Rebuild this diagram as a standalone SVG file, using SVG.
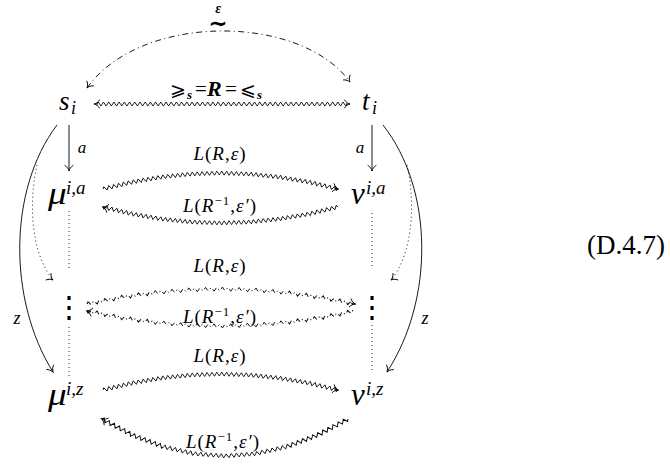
<svg xmlns="http://www.w3.org/2000/svg" width="670" height="466" viewBox="0 0 670 466">
<style>
text{font-family:"Liberation Serif",serif;fill:#000}
.i{font-family:"Liberation Serif",serif;font-style:italic}
.u{font-style:normal}
.sym{font-family:"DejaVu Sans",sans-serif;font-style:normal}
.ln{fill:none;stroke:#000;stroke-width:0.9}
.dd{stroke-dasharray:6,3.5,1,3.5}
.dt{stroke-dasharray:1,3}
.zl{fill:none;stroke:#000;stroke-width:0.85}
.zd{stroke-dasharray:6,3.5,1.2,3.5}
.lab{font-size:19px;letter-spacing:1px}
.nd{font-size:31px}
.sp{font-size:19px}
</style>
<defs>
<marker id="ar" viewBox="-8 -6 10 12" refX="0" refY="0" markerWidth="10" markerHeight="12" markerUnits="userSpaceOnUse" orient="auto-start-reverse" overflow="visible">
<path d="M-5.5,-4 C-4.2,-1.6 -1.8,-0.5 0,0 C-1.8,0.5 -4.2,1.6 -5.5,4" fill="none" stroke="#000" stroke-width="0.9" stroke-linecap="round"/>
</marker>
<path id="zz" d="M0,0 l1.25,-2 l2.5,4 l2.5,-4 l2.5,4 l2.5,-4 l2.5,4 l2.5,-4 l2.5,4 l2.5,-4 l2.5,4 l2.5,-4 l2.5,4 l1.25,-2"/>
<g id="zzA">
<use href="#zz" transform="translate(103,189) rotate(-13.4) scale(1.007,1)"/>
<use href="#zz" transform="translate(132.375,182) rotate(-9.66) scale(0.993,1)"/>
<use href="#zz" transform="translate(161.75,177) rotate(-5.83) scale(0.984,1)"/>
<use href="#zz" transform="translate(191.125,174) rotate(-1.95) scale(0.98,1)"/>
<use href="#zz" transform="translate(220.5,173) rotate(1.95) scale(0.98,1)"/>
<use href="#zz" transform="translate(249.875,174) rotate(5.83) scale(0.984,1)"/>
<use href="#zz" transform="translate(279.25,177) rotate(9.66) scale(0.993,1)"/>
<use href="#zz" transform="translate(308.625,182) rotate(13.4) scale(1.007,1)"/>
</g>
<g id="zzC">
<use href="#zz" transform="translate(87,304) rotate(-11.08) scale(1.138,1)"/>
<use href="#zz" transform="translate(120.5,297.44) rotate(-7.97) scale(1.128,1)"/>
<use href="#zz" transform="translate(154,292.75) rotate(-4.8) scale(1.121,1)"/>
<use href="#zz" transform="translate(187.5,289.94) rotate(-1.6) scale(1.117,1)"/>
<use href="#zz" transform="translate(221,289) rotate(1.6) scale(1.117,1)"/>
<use href="#zz" transform="translate(254.5,289.94) rotate(4.8) scale(1.121,1)"/>
<use href="#zz" transform="translate(288,292.75) rotate(7.97) scale(1.128,1)"/>
<use href="#zz" transform="translate(321.5,297.44) rotate(11.08) scale(1.138,1)"/>
</g>
</defs>

<g id="connectors">
<path class="ln dd" d="M87,88 C140,13 300,13 350,82" marker-start="url(#ar)" marker-end="url(#ar)"/>
<g class="zl">
<use href="#zz" transform="translate(97,104) scale(1.0417,1)"/>
<use href="#zz" transform="translate(128.25,104) scale(1.0417,1)"/>
<use href="#zz" transform="translate(159.5,104) scale(1.0417,1)"/>
<use href="#zz" transform="translate(190.75,104) scale(1.0417,1)"/>
<use href="#zz" transform="translate(222,104) scale(1.0417,1)"/>
<use href="#zz" transform="translate(253.25,104) scale(1.0417,1)"/>
<use href="#zz" transform="translate(284.5,104) scale(1.0417,1)"/>
<use href="#zz" transform="translate(315.75,104) scale(1.0417,1)"/>
</g>
<path class="ln" d="M98,104 L94,104" marker-end="url(#ar)"/>
<path class="ln" d="M346,104 L350,104" marker-end="url(#ar)"/>
<path class="ln" d="M69,125 L69,171" marker-end="url(#ar)"/>
<path class="ln" d="M372,125 L372,171" marker-end="url(#ar)"/>
<path class="ln" d="M57,125 C8,190 8,300 53,372" marker-end="url(#ar)"/>
<path class="ln" d="M383,125 C434,190 434,300 387,372" marker-end="url(#ar)"/>
<path class="ln dt" d="M37,165 C29,200 30,252 53,280"/>
<path class="ln" d="M51,278.5 L53,280" marker-end="url(#ar)"/>
<path class="ln dt" d="M407,165 C415,200 414,252 391,280"/>
<path class="ln" d="M393,278.5 L391,280" marker-end="url(#ar)"/>
<path class="ln dt" d="M69,211 L69,268 M69,327 L69,377 M372,213 L372,268 M372,325 L372,373"/>
<use href="#zzA" class="zl"/>
<path class="ln" d="M334,187.9 L338.5,189.1" marker-end="url(#ar)"/>
<use href="#zzA" class="zl" transform="translate(0,396) scale(1,-1)"/>
<path class="ln" d="M107,208.1 L102.5,206.9" marker-end="url(#ar)"/>
<use href="#zzC" class="zl zd"/>
<path class="ln" d="M351,303.1 L355.5,304.1" marker-end="url(#ar)"/>
<use href="#zzC" class="zl zd" transform="translate(0,615) scale(1,-1)"/>
<path class="ln" d="M91,311.9 L86.5,310.9" marker-end="url(#ar)"/>
<use href="#zzA" class="zl" transform="translate(0,201)"/>
<path class="ln" d="M334,388.9 L338.5,390.1" marker-end="url(#ar)"/>
<g class="zl">
<use href="#zz" transform="translate(102,419) rotate(27.76) scale(1.158,1)"/>
<use href="#zz" transform="translate(132.75,435.19) rotate(20.61) scale(1.095,1)"/>
<use href="#zz" transform="translate(163.5,446.75) rotate(12.71) scale(1.051,1)"/>
<use href="#zz" transform="translate(194.25,453.69) rotate(4.3) scale(1.028,1)"/>
<use href="#zz" transform="translate(225,456) rotate(-4.3) scale(1.028,1)"/>
<use href="#zz" transform="translate(255.75,453.69) rotate(-12.71) scale(1.051,1)"/>
<use href="#zz" transform="translate(286.5,446.75) rotate(-20.61) scale(1.095,1)"/>
<use href="#zz" transform="translate(317.25,435.19) rotate(-27.76) scale(1.158,1)"/>
</g>
<path class="ln" d="M106,421.4 L101.5,418.7" marker-end="url(#ar)"/>

<text text-anchor="middle" font-weight="bold"><tspan class="i" x="218" y="12.5" font-size="14">ε</tspan><tspan class="sym" x="218" y="31" font-size="23">∼</tspan></text>
<text font-size="19"><tspan class="sym" x="170" y="96">⩾</tspan><tspan x="187" y="99" font-size="13" font-weight="bold" class="i">s</tspan><tspan x="195" y="96" font-size="21">=</tspan><tspan x="207" y="96" font-size="22" font-weight="bold" class="i">R</tspan><tspan x="225" y="96" font-size="21">=</tspan><tspan class="sym" x="240" y="96">⩽</tspan><tspan x="257" y="99" font-size="13" font-weight="bold" class="i">s</tspan></text>
<text class="i" x="82" y="153" text-anchor="middle" font-size="17">a</text>
<text class="i" x="360" y="153" text-anchor="middle" font-size="17">a</text>
<text class="i" x="17" y="324" text-anchor="middle" font-size="18">z</text>
<text class="i" x="425" y="324" text-anchor="middle" font-size="18">z</text>
<text class="i lab" x="220" y="160" text-anchor="middle">L<tspan class="u">(</tspan>R<tspan class="u">,</tspan>ε<tspan class="u">)</tspan></text>
<text class="i lab" x="220" y="212" text-anchor="middle">L<tspan class="u">(</tspan>R<tspan class="u" font-size="13" dy="-7">−1</tspan><tspan class="u" dy="7">,</tspan>ε′<tspan class="u">)</tspan></text>
<text class="i lab" x="220" y="272" text-anchor="middle">L<tspan class="u">(</tspan>R<tspan class="u">,</tspan>ε<tspan class="u">)</tspan></text>
<text class="i lab" x="220" y="323" text-anchor="middle">L<tspan class="u">(</tspan>R<tspan class="u" font-size="13" dy="-7">−1</tspan><tspan class="u" dy="7">,</tspan>ε′<tspan class="u">)</tspan></text>
<text class="i lab" x="220" y="362" text-anchor="middle">L<tspan class="u">(</tspan>R<tspan class="u">,</tspan>ε<tspan class="u">)</tspan></text>
<text class="i lab" x="223" y="448" text-anchor="middle">L<tspan class="u">(</tspan>R<tspan class="u" font-size="13" dy="-7">−1</tspan><tspan class="u" dy="7">,</tspan>ε′<tspan class="u">)</tspan></text>
</g>

<g id="n_s"><text class="i" font-size="27" x="59" y="110">s<tspan x="71" dy="4" font-size="18">i</tspan></text></g>
<g id="n_t"><text class="i" font-size="27" x="362" y="110">t<tspan x="372" dy="4" font-size="18">i</tspan></text></g>
<g id="n_mua"><text class="i nd" transform="translate(48,204) scale(1.2,1)">μ</text><text class="i sp" x="66" y="194">i,a</text></g>
<g id="n_nua"><text class="i nd" x="351" y="204">ν<tspan class="sp" x="366" dy="-10">i,a</tspan></text></g>
<g id="n_vl"><text class="sym" x="69" y="317" text-anchor="middle" font-size="30" font-weight="200">⋮</text></g>
<g id="n_vr"><text class="sym" x="372" y="317" text-anchor="middle" font-size="30" font-weight="200">⋮</text></g>
<g id="n_muz"><text class="i nd" transform="translate(48,405) scale(1.2,1)">μ</text><text class="i sp" x="66" y="395">i,z</text></g>
<g id="n_nuz"><text class="i nd" x="351" y="405">ν<tspan class="sp" x="366" dy="-10">i,z</tspan></text></g>

<g id="eqno"><text x="587" y="254" font-size="27">(D.4.7)</text></g>
</svg>
